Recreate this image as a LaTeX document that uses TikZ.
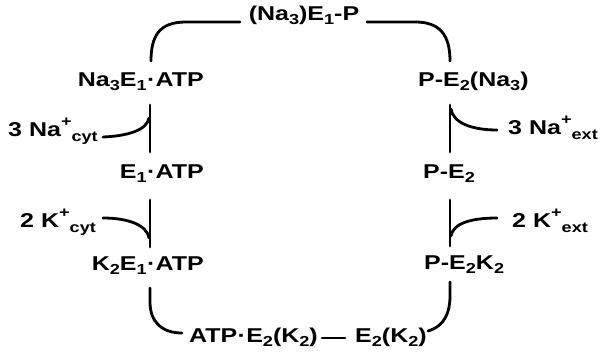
\documentclass[tikz,border=0pt]{standalone}
\usepackage{fontspec}
\newfontfamily\lblfont{Liberation Sans Bold}[FakeStretch=1.25]
\newcommand\sbs[1]{\raisebox{-0.16em}{\fontsize{14.5}{14.5}\selectfont #1}}
\newcommand\sps[1]{\raisebox{0.5em}{\fontsize{14.5}{14.5}\selectfont #1}}
\newcommand\ion[1]{\raisebox{-0.22em}{\fontsize{14.5}{14.5}\selectfont #1}}
\newcommand\cdt{\kern0.3pt·\kern0.3pt}
\begin{document}
\begin{tikzpicture}[x=1pt,y=-1pt,
  lbl/.style={inner sep=0pt,font=\lblfont\fontsize{20}{22}\selectfont},
  conn/.style={line width=2.8pt,line cap=round}]
\useasboundingbox (0,0) rectangle (600,355);
% species
\node[lbl,anchor=base] (ep) at (304,21) {(Na\sbs{3})E\sbs{1}-P};
\node[lbl,anchor=base east] (na3e1) at (204,87) {Na\sbs{3}E\sbs{1}\cdt ATP};
\node[lbl,anchor=base east] (e1) at (204,179) {E\sbs{1}\cdt ATP};
\node[lbl,anchor=base east] (k2e1) at (204,271) {K\sbs{2}E\sbs{1}\cdt ATP};
\node[lbl,anchor=base west] (atpe2) at (189,343) {ATP\cdt E\sbs{2}(K\sbs{2})};
\node[lbl,anchor=base west] (e2k) at (355,343) {E\sbs{2}(K\sbs{2})};
\node[lbl,anchor=base west] (pe2k2) at (424,270) {P-E\sbs{2}K\sbs{2}};
\node[lbl,anchor=base west] (pe2) at (423,179) {P-E\sbs{2}};
\node[lbl,anchor=base west] (pe2na) at (418,87) {P-E\sbs{2}(Na\sbs{3})};
% ions
\node[lbl,anchor=base west] (nacyt) at (8,137) {3 Na\sps{+}\ion{cyt}};
\node[lbl,anchor=base west] (kcyt) at (20,228) {2 K\sps{+}\ion{cyt}};
\node[lbl,anchor=base west] (naext) at (508,135) {3 Na\sps{+}\ion{ext}};
\node[lbl,anchor=base west] (kext) at (512,228) {2 K\sps{+}\ion{ext}};
% connector end points
\coordinate (a1) at (151,61);
\coordinate (a2) at (240,22);
\coordinate (b1) at (367,22);
\coordinate (b2) at (450,61);
\coordinate (c1) at (150,105);
\coordinate (c2) at (150,152);
\coordinate (c3) at (103,137);
\coordinate (c4) at (149,118);
\coordinate (d1) at (150,200);
\coordinate (d2) at (150,247);
\coordinate (d3) at (103,218);
\coordinate (d4) at (149,238);
\coordinate (e1a) at (150,288);
\coordinate (e1b) at (182,333);
\coordinate (f1) at (322,338);
\coordinate (f2) at (345,338);
\coordinate (g1) at (428,331);
\coordinate (g2) at (450,282);
\coordinate (h1) at (450,200);
\coordinate (h2) at (450,246);
\coordinate (h3) at (497,218);
\coordinate (h4) at (451,236);
\coordinate (i1) at (450,105);
\coordinate (i2) at (450,152);
\coordinate (i3) at (497,130);
\coordinate (i4) at (451,109);
% connectors
\draw[conn] (a1) .. controls (151,35) and (160,22) .. (186,22) -- (a2);
\draw[conn] (b1) -- (415,22) .. controls (440,22) and (450,35) .. (b2);
\draw[conn] (c1) -- (c2);
\draw[conn] (c3) .. controls (128,136) and (147,130) .. (c4);
\draw[conn] (d1) -- (d2);
\draw[conn] (d3) .. controls (128,218) and (147,225) .. (d4);
\draw[conn] (e1a) -- (150,302) .. controls (150,322) and (162,333) .. (e1b);
\draw[conn] (f1) -- (f2);
\draw[conn] (g1) .. controls (445,326) and (450,312) .. (450,296) -- (g2);
\draw[conn] (h1) -- (h2);
\draw[conn] (h3) .. controls (472,218) and (453,223) .. (h4);
\draw[conn] (i1) -- (i2);
\draw[conn] (i3) .. controls (472,130) and (453,123) .. (i4);
\end{tikzpicture}
\end{document}
